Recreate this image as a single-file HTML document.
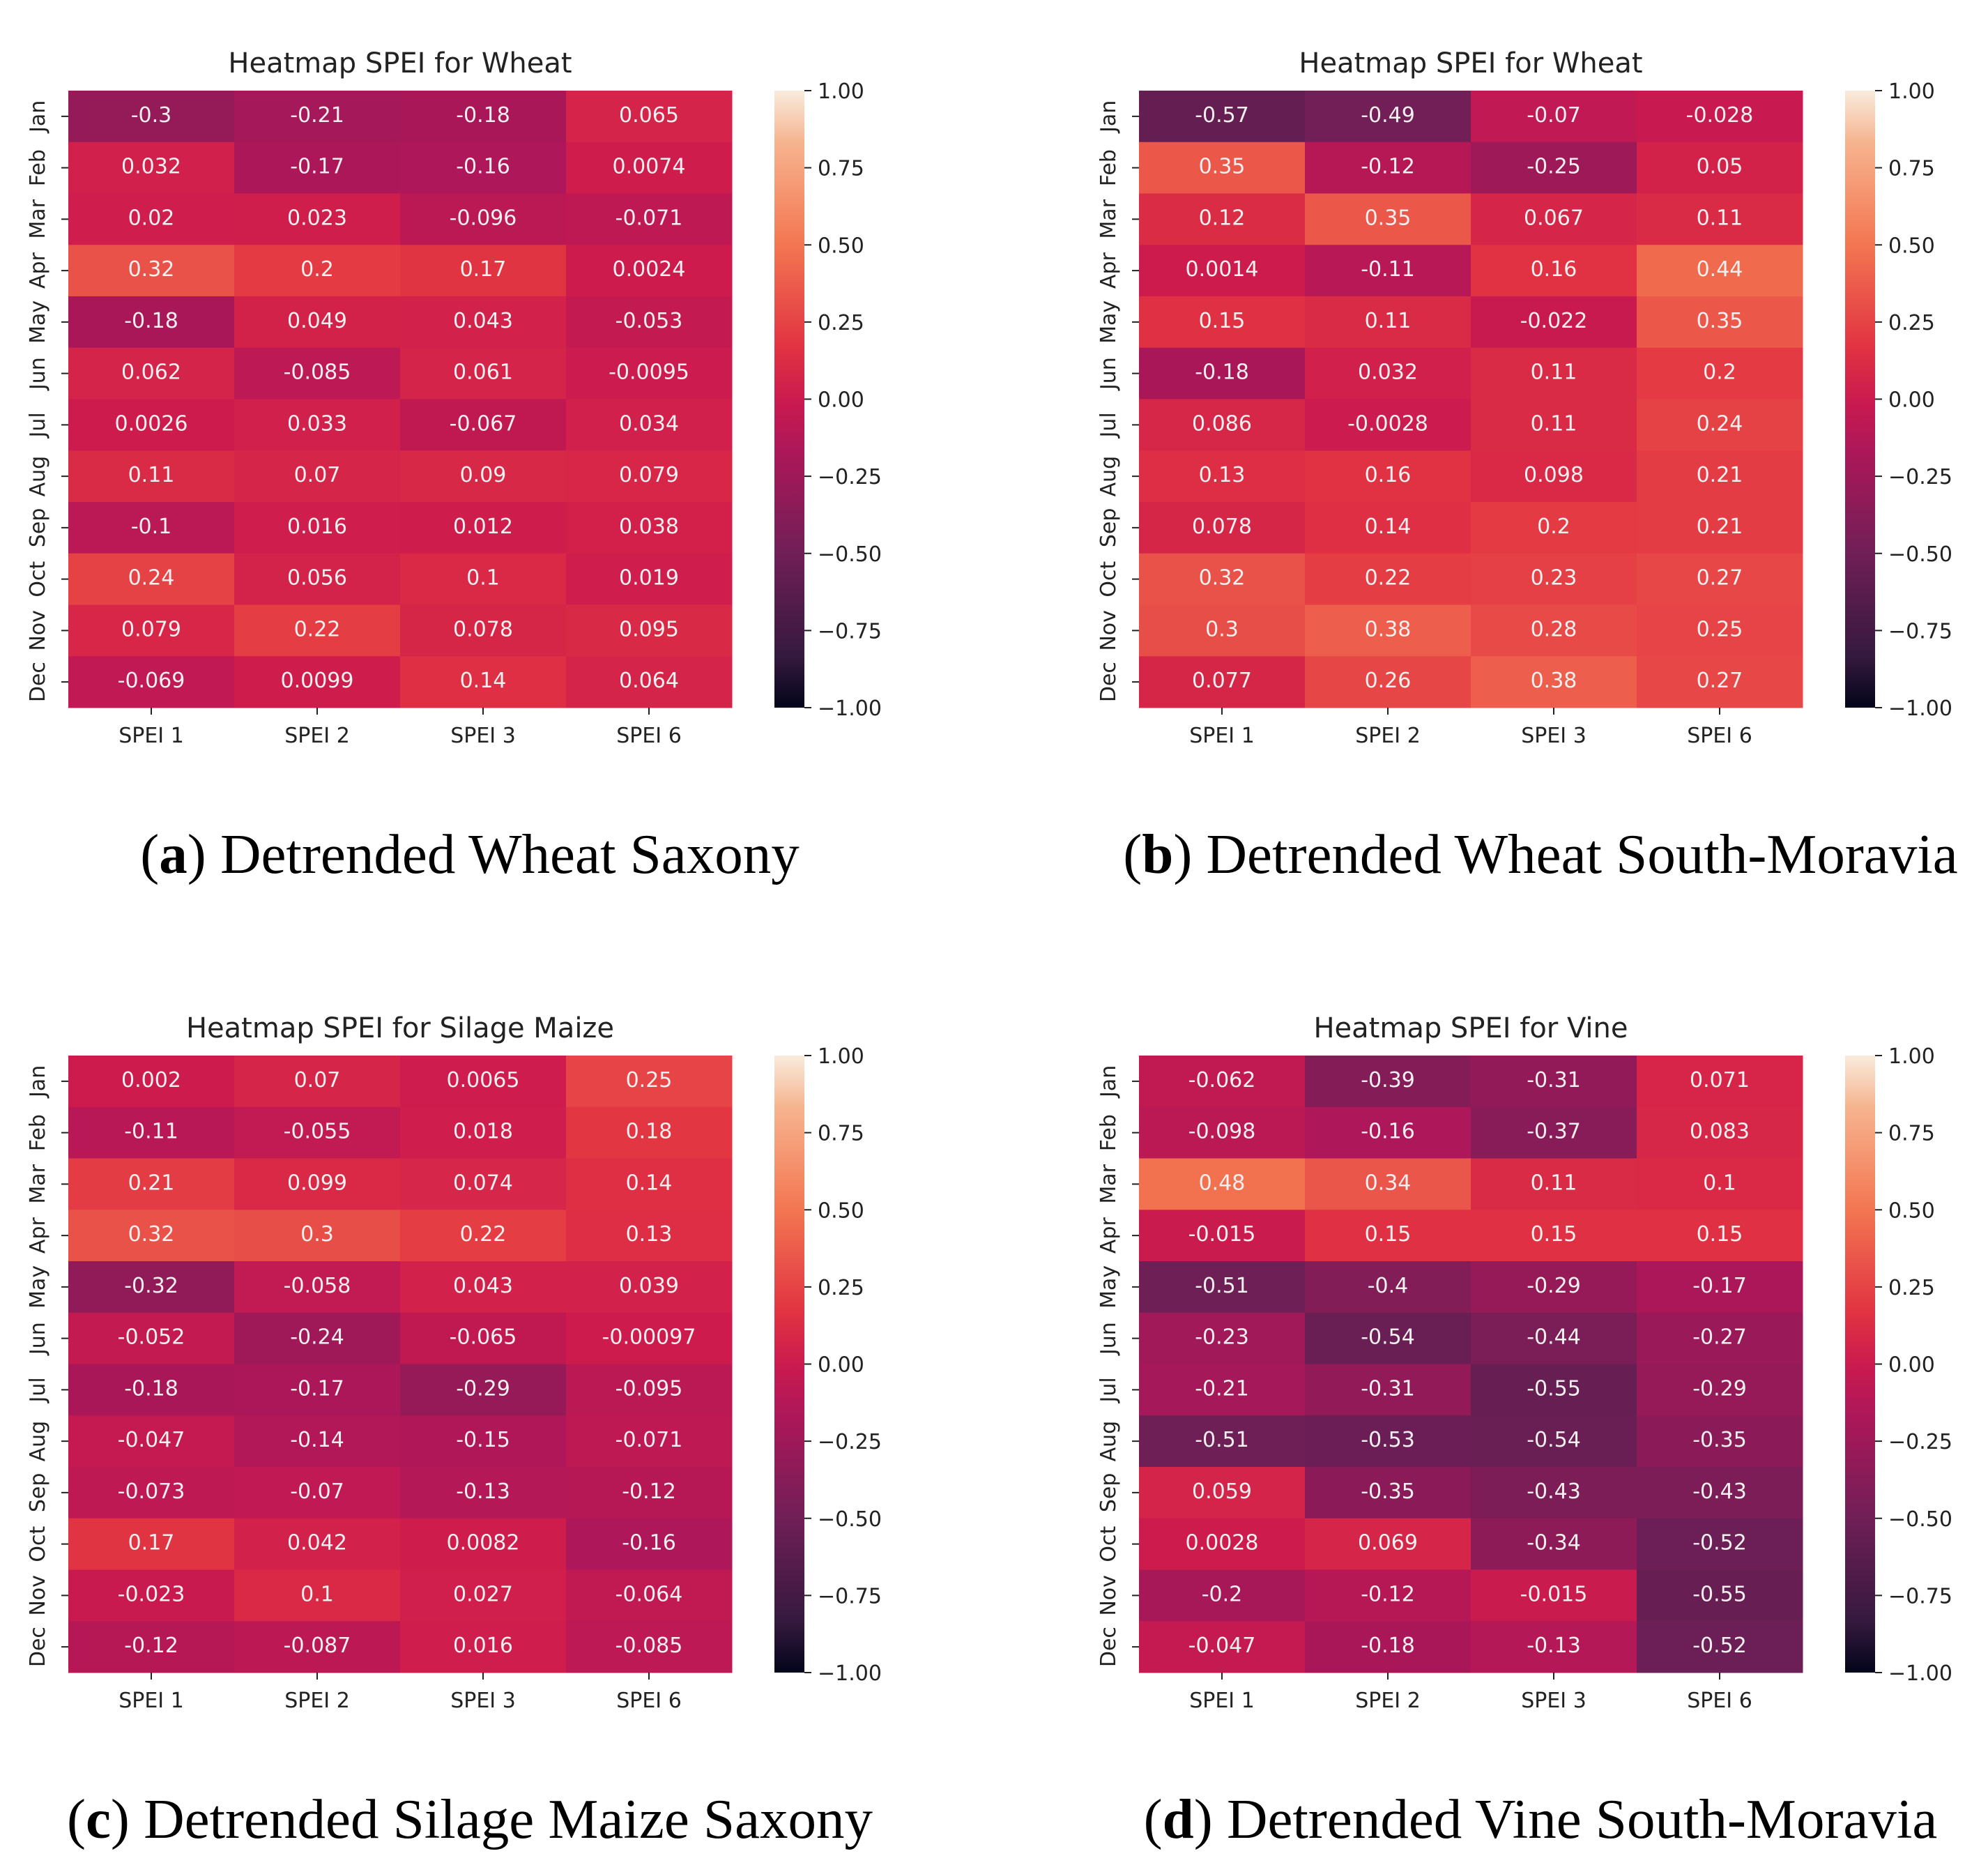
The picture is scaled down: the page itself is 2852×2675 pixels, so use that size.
<!DOCTYPE html>
<html><head><meta charset="utf-8"><style>
html,body{margin:0;padding:0;background:#fff;}
svg{display:block;}
</style></head><body>
<svg id="fig" width="2852" height="2675" xmlns="http://www.w3.org/2000/svg">
<defs>
<linearGradient id="rocket" x1="0" y1="1" x2="0" y2="0">
<stop offset="0" stop-color="#03051a"/><stop offset="0.083" stop-color="#35193e"/>
<stop offset="0.25" stop-color="#701f57"/><stop offset="0.417" stop-color="#ad1759"/>
<stop offset="0.5" stop-color="#cb1b4f"/>
<stop offset="0.583" stop-color="#e13342"/><stop offset="0.75" stop-color="#f37651"/>
<stop offset="0.917" stop-color="#f6b48f"/><stop offset="1" stop-color="#faebdd"/>
</linearGradient>
</defs>
</svg>
<script>
const months=["Jan","Feb","Mar","Apr","May","Jun","Jul","Aug","Sep","Oct","Nov","Dec"];
const columns=["SPEI 1","SPEI 2","SPEI 3","SPEI 6"];
const cbTicks=[-1,-0.75,-0.5,-0.25,0,0.25,0.5,0.75,1];
const titles=["Heatmap SPEI for Wheat","Heatmap SPEI for Wheat","Heatmap SPEI for Silage Maize","Heatmap SPEI for Vine"];
const captionLetters=["a","b","c","d"];
const captionTexts=[" Detrended Wheat Saxony"," Detrended Wheat South-Moravia"," Detrended Silage Maize Saxony"," Detrended Vine South-Moravia"];
const valuesA=[[-0.3,-0.21,-0.18,0.065],[0.032,-0.17,-0.16,0.0074],[0.02,0.023,-0.096,-0.071],[0.32,0.2,0.17,0.0024],[-0.18,0.049,0.043,-0.053],[0.062,-0.085,0.061,-0.0095],[0.0026,0.033,-0.067,0.034],[0.11,0.07,0.09,0.079],[-0.1,0.016,0.012,0.038],[0.24,0.056,0.1,0.019],[0.079,0.22,0.078,0.095],[-0.069,0.0099,0.14,0.064]];
const valuesB=[[-0.57,-0.49,-0.07,-0.028],[0.35,-0.12,-0.25,0.05],[0.12,0.35,0.067,0.11],[0.0014,-0.11,0.16,0.44],[0.15,0.11,-0.022,0.35],[-0.18,0.032,0.11,0.2],[0.086,-0.0028,0.11,0.24],[0.13,0.16,0.098,0.21],[0.078,0.14,0.2,0.21],[0.32,0.22,0.23,0.27],[0.3,0.38,0.28,0.25],[0.077,0.26,0.38,0.27]];
const valuesC=[[0.002,0.07,0.0065,0.25],[-0.11,-0.055,0.018,0.18],[0.21,0.099,0.074,0.14],[0.32,0.3,0.22,0.13],[-0.32,-0.058,0.043,0.039],[-0.052,-0.24,-0.065,-0.00097],[-0.18,-0.17,-0.29,-0.095],[-0.047,-0.14,-0.15,-0.071],[-0.073,-0.07,-0.13,-0.12],[0.17,0.042,0.0082,-0.16],[-0.023,0.1,0.027,-0.064],[-0.12,-0.087,0.016,-0.085]];
const valuesD=[[-0.062,-0.39,-0.31,0.071],[-0.098,-0.16,-0.37,0.083],[0.48,0.34,0.11,0.1],[-0.015,0.15,0.15,0.15],[-0.51,-0.4,-0.29,-0.17],[-0.23,-0.54,-0.44,-0.27],[-0.21,-0.31,-0.55,-0.29],[-0.51,-0.53,-0.54,-0.35],[0.059,-0.35,-0.43,-0.43],[0.0028,0.069,-0.34,-0.52],[-0.2,-0.12,-0.015,-0.55],[-0.047,-0.18,-0.13,-0.52]];
const allValues=[valuesA,valuesB,valuesC,valuesD];

const stops=[[0,[3,5,26]],[0.083,[53,25,62]],[0.25,[112,31,87]],[0.417,[173,23,89]],[0.5,[205,27,78]],[0.583,[225,51,66]],[0.75,[243,118,81]],[0.917,[246,180,143]],[1,[250,235,221]]];
function cmap(v){let t=(v+1)/2;t=Math.max(0,Math.min(1,t));
 for(let i=0;i<stops.length-1;i++){const a=stops[i],b=stops[i+1];
  if(t<=b[0]){const f=(t-a[0])/(b[0]-a[0]);const c=a[1].map((x,k)=>Math.round(x+(b[1][k]-x)*f));return `rgb(${c[0]},${c[1]},${c[2]})`;}}
 return "rgb(250,235,221)";}
const NS="http://www.w3.org/2000/svg";
const svg=document.getElementById("fig");
function mk(tag,attrs,parent){const e=document.createElementNS(NS,tag);for(const k in attrs)e.setAttribute(k,attrs[k]);(parent||svg).appendChild(e);return e;}
const W=952,H=885,sans='"DejaVu Sans","Liberation Sans",sans-serif';
const panelOffsets=[[0,0],[1536,0],[0,1384],[1536,1384]];
allValues.forEach((vals,p)=>{
 const ox=panelOffsets[p][0],oy=panelOffsets[p][1];
 const x0=98+ox,y0=130+oy,cw=W/columns.length,rh=H/months.length;
 const xs=j=>x0+j*cw, ys=i=>y0+i*rh;
 const g=mk("g",{});
 
 
 const t=mk("text",{x:x0+W/2,y:y0-26,"text-anchor":"middle","font-family":sans,"font-size":40,fill:"#222"},g);
 t.textContent=titles[p];
 
 
 vals.forEach((row,i)=>row.forEach((v,j)=>{
  const r=mk("rect",{x:xs(j),y:ys(i),width:cw+0.5,height:rh+0.5,fill:cmap(v)},g);
  
  
  const tx=mk("text",{x:xs(j)+cw/2,y:ys(i)+rh/2+8,"text-anchor":"middle","font-family":sans,"font-size":30,fill:"#f4f0f0"},g);
  tx.textContent=String(v);
  
  
 }));
 months.forEach((m,i)=>{
  const cy=ys(i)+rh/2;
  mk("line",{x1:x0-10,x2:x0,y1:cy,y2:cy,stroke:"#222","stroke-width":2},g);
  const l=mk("text",{x:0,y:0,transform:`translate(${x0-34},${cy}) rotate(-90)`,"text-anchor":"middle","font-family":sans,"font-size":30,fill:"#222"},g);
  l.textContent=m;
  
  
 });
 columns.forEach((c,j)=>{
  const cx=xs(j)+cw/2;
  mk("line",{x1:cx,x2:cx,y1:y0+H,y2:y0+H+10,stroke:"#222","stroke-width":2},g);
  const l=mk("text",{x:cx,y:y0+H+50,"text-anchor":"middle","font-family":sans,"font-size":30,fill:"#222"},g);
  l.textContent=c;
  
  
 });
 const cbx=1111+ox;
 const cb=mk("rect",{x:cbx,y:y0,width:43,height:H,fill:"url(#rocket)"},g);
 
 
 const cbY=v=>y0+H-(v+1)/2*H;
 cbTicks.forEach(v=>{
  const yy=cbY(v);
  mk("line",{x1:cbx+43,x2:cbx+53,y1:yy,y2:yy,stroke:"#222","stroke-width":2},g);
  const l=mk("text",{x:cbx+62,y:yy+11,"font-family":sans,"font-size":30,fill:"#222"},g);
  l.textContent=v.toFixed(2).replace("-","\u2212");
  
  
 });
 const cap=mk("text",{x:x0+W/2+100,y:1252+oy,"text-anchor":"middle","font-family":'"Liberation Serif",serif',"font-size":81,fill:"#000"},g);
 
 
 const s1=mk("tspan",{},cap);s1.textContent="(";
 const s2=mk("tspan",{"font-weight":"bold"},cap);s2.textContent=captionLetters[p];
 const s3=mk("tspan",{},cap);s3.textContent=")"+captionTexts[p];
});
</script>
</body></html>
